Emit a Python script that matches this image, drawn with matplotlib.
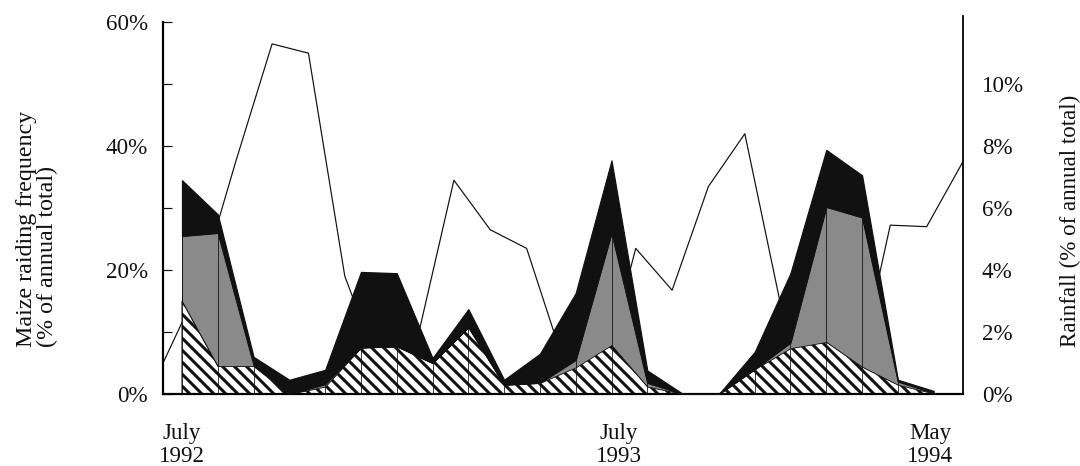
import numpy as np
import matplotlib.pyplot as plt

plt.rcParams['font.family'] = ['Liberation Serif', 'DejaVu Serif']
plt.rcParams['hatch.linewidth'] = 3.0

# maize raiding frequency (% of annual total), one value per month from July 1992
raid_hatched = [15, 4.5, 4.5, 0, 1.2, 7.5, 7.7, 5.0, 10.8, 1.5, 1.8, 4.3,
                7.9, 1.2, 0, 0, 4.0, 7.4, 8.4, 4.4, 1.5, 0.1]
raid_stippled = [10.5, 21.5, 0.2, 0, 0.4, 0, 0, 0, 0, 0, 0, 1.2,
                 18.1, 0.6, 0, 0, 0, 0.9, 21.8, 24.1, 0.5, 0.1]
raid_black = [9, 3, 1.3, 2.3, 2.3, 12.2, 11.8, 0.8, 2.9, 0.8, 4.7, 10.8,
              11.7, 2.0, 0, 0, 2.8, 11.2, 9.2, 6.8, 0.3, 0.3]

# rainfall (% of annual total), spread across the full width of the plot
rainfall = [1.0, 3.5, 7.5, 11.3, 11.0, 3.8, 0.7, 1.8, 6.9, 5.3, 4.7, 1.1,
            0.2, 4.7, 3.35, 6.7, 8.4, 2.8, 1.0, 0.1, 5.45, 5.4, 7.5]

month_ticks = [0, 12.2, 20.9]
month_labels = ['July\n1992', 'July\n1993', 'May\n1994']

raid_ticks = [0, 20, 40, 60]
rain_ticks = [0, 2, 4, 6, 8, 10]

XMIN, XMAX = -0.53, 21.82
FS = 23
INK = '#111111'

fig = plt.figure(figsize=(1080 / 72, 466 / 72), dpi=72)
ax = fig.add_axes([163 / 1080, 72 / 466, 800 / 1080, 378 / 466])
ax2 = ax.twinx()

# rainfall line sits underneath the raiding areas
ax.set_zorder(ax2.get_zorder() + 1)
ax.patch.set_visible(False)

rain_x = np.linspace(XMIN, XMAX, len(rainfall))
ax2.plot(rain_x, rainfall, color=INK, lw=1.2)
ax2.set_ylim(0, 12.2)

x = np.arange(len(raid_hatched))
h = np.array(raid_hatched)
s = h + np.array(raid_stippled)
b = s + np.array(raid_black)

ax.fill_between(x, 0, h, facecolor='white', edgecolor=INK, hatch='\\\\', lw=1.0, zorder=2)
ax.fill_between(x, h, s, facecolor='#8a8a8a', edgecolor=INK, lw=0.8, zorder=3)
ax.vlines(x[s > 0], 0, s[s > 0], colors=INK, lw=0.8, zorder=4)
ax.fill_between(x, s, b, facecolor=INK, edgecolor=INK, lw=1.2, zorder=5)

ax.set_xlim(XMIN, XMAX)
ax.set_ylim(0, 61)

# spines
ax.spines['top'].set_visible(False)
ax.spines['right'].set_visible(False)
ax.spines['left'].set_bounds(0, 60)
ax.spines['left'].set_linewidth(2.2)
ax.spines['bottom'].set_linewidth(2.2)
for side in ['top', 'left', 'bottom']:
    ax2.spines[side].set_visible(False)
ax2.spines['right'].set_linewidth(1.8)

# ticks
ax.set_yticks(raid_ticks, [f'{t}%' for t in raid_ticks])
ax.set_yticks([10, 30, 50], minor=True)
ax.tick_params(axis='y', which='both', direction='in', length=9, width=1.2,
               pad=15, labelsize=FS, colors=INK)
ax.set_xticks(month_ticks, month_labels)
ax.tick_params(axis='x', length=0, pad=29, labelsize=FS, colors=INK)
for lab in ax.get_xticklabels():
    lab.set_linespacing(1.1)

ax2.set_yticks(rain_ticks, [f'{t}%' for t in rain_ticks])
ax2.tick_params(axis='y', length=0, pad=19, labelsize=FS, colors=INK)

# axis titles
fig.text(37 / 1080, 1 - 347 / 466, 'Maize raiding frequency\n(% of annual total)',
         rotation=90, ha='center', va='bottom', multialignment='left',
         fontsize=24, color=INK, linespacing=0.95)
fig.text(1070 / 1080, 1 - 347 / 466, 'Rainfall (% of annual total)',
         rotation=90, ha='center', va='bottom', fontsize=FS, color=INK)

fig.savefig('out.png', dpi=72)
